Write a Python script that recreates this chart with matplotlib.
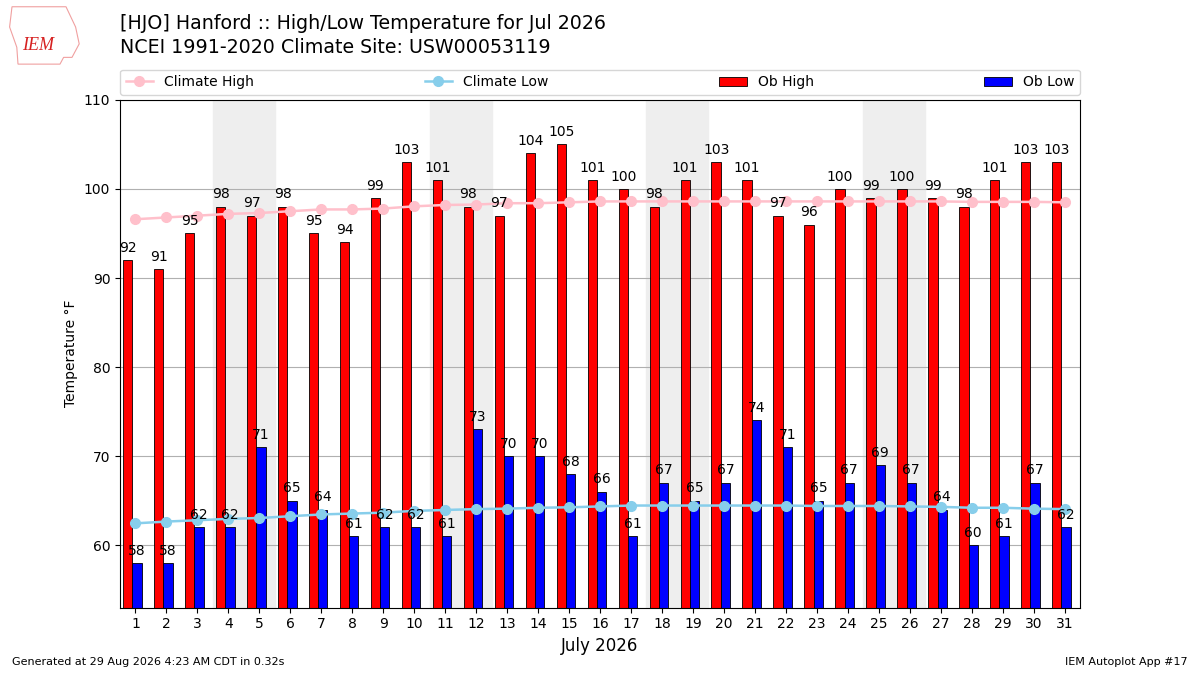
import numpy as np
import matplotlib.pyplot as plt
from matplotlib.patches import Polygon

days = np.arange(1, 32)
ob_high = [92, 91, 95, 98, 97, 98, 95, 94, 99, 103, 101, 98, 97, 104, 105, 101,
           100, 98, 101, 103, 101, 97, 96, 100, 99, 100, 99, 98, 101, 103, 103]
ob_low = [58, 58, 62, 62, 71, 65, 64, 61, 62, 62, 61, 73, 70, 70, 68, 66,
          61, 67, 65, 67, 74, 71, 65, 67, 69, 67, 64, 60, 61, 67, 62]
clim_high = [96.6, 96.8, 97.0, 97.2, 97.3, 97.5, 97.7, 97.7, 97.8, 98.05, 98.2,
             98.25, 98.4, 98.4, 98.5, 98.6, 98.6, 98.6, 98.6, 98.6, 98.6, 98.6,
             98.6, 98.6, 98.6, 98.6, 98.6, 98.55, 98.55, 98.55, 98.5]
clim_low = [62.45, 62.65, 62.8, 62.95, 63.05, 63.25, 63.45, 63.55, 63.65, 63.85,
            63.95, 64.05, 64.1, 64.2, 64.25, 64.35, 64.45, 64.45, 64.45, 64.45,
            64.45, 64.45, 64.4, 64.4, 64.4, 64.35, 64.3, 64.2, 64.2, 64.1, 64.05]
weekends = [4, 11, 18, 25]

fig = plt.figure(figsize=(12, 6.75), dpi=100)
ax = fig.add_axes([0.1, 0.1, 0.8, 0.752])

for d in weekends:
    ax.axvspan(d - 0.5, d + 1.5, color='#eeeeee', zorder=0)

ax.plot(days, clim_high, color='pink', marker='o', markersize=7, lw=1.8,
        label='Climate High', zorder=3)
ax.plot(days, clim_low, color='skyblue', marker='o', markersize=7, lw=1.8,
        label='Climate Low', zorder=3)
ax.bar(days - 0.4, ob_high, width=0.3, align='edge', color='red',
       edgecolor='black', linewidth=0.6, label='Ob High', zorder=2)
ax.bar(days - 0.1, ob_low, width=0.3, align='edge', color='blue',
       edgecolor='black', linewidth=0.6, label='Ob Low', zorder=2)

for d, h, l in zip(days, ob_high, ob_low):
    ax.text(d - 0.25, h + 0.6, str(h), ha='center', va='bottom', fontsize=10,
            zorder=4)
    ax.text(d + 0.05, l + 0.6, str(l), ha='center', va='bottom', fontsize=10,
            zorder=4)

ax.set_xlim(0.5, 31.5)
ax.set_ylim(53, 110)
ax.set_xticks(days)
ax.set_yticks(range(60, 111, 10))
ax.tick_params(labelsize=10)
ax.grid(axis='y', color='#b0b0b0', lw=0.8)
ax.set_axisbelow(True)
ax.set_xlabel('July 2026', fontsize=12)
ax.set_ylabel('Temperature \u00b0F', fontsize=10)

ax.legend(ncol=4, mode='expand', loc='lower left',
          bbox_to_anchor=(0, 1.01, 1, 0.05), fontsize=10, borderaxespad=0)

fig.text(0.1, 0.965, '[HJO] Hanford :: High/Low Temperature for Jul 2026',
         fontsize=13.7, va='center')
fig.text(0.1, 0.929, 'NCEI 1991-2020 Climate Site: USW00053119',
         fontsize=13.7, va='center')

# rough logo outline
outline = [(0.010, 0.990), (0.055, 0.990), (0.063, 0.960), (0.066, 0.935),
           (0.060, 0.915), (0.053, 0.915), (0.050, 0.905), (0.015, 0.905),
           (0.014, 0.930), (0.008, 0.960)]
fig.patches.append(Polygon(outline, closed=True, fill=False, edgecolor='#f0a0a0',
                           lw=0.8, transform=fig.transFigure, figure=fig))
fig.text(0.018, 0.932, 'IEM', color='#d62020', fontsize=13, style='italic',
         family='Liberation Serif', va='center')
fig.text(0.01, 0.015, 'Generated at 29 Aug 2026 4:23 AM CDT in 0.32s',
         fontsize=8)
fig.text(0.99, 0.015, 'IEM Autoplot App #17', fontsize=8, ha='right')

fig.savefig('out.png', dpi=100)
